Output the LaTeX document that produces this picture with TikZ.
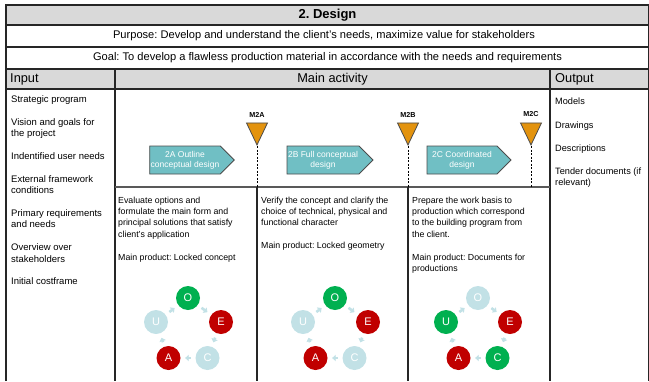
\documentclass[tikz,border=0pt]{standalone}
\usepackage{fontspec}
\setmainfont{Liberation Sans}
\usetikzlibrary{arrows.meta, shapes.geometric, shapes.symbols}
\frenchspacing

\definecolor{rowgray}{HTML}{D9D9D9}
\definecolor{phaseteal}{HTML}{70BFC4}
\definecolor{milestone}{HTML}{E3930E}
\definecolor{okgreen}{HTML}{00B050}
\definecolor{badred}{HTML}{C00000}
\definecolor{palecyan}{HTML}{C2E1E6}

\begin{document}
\begin{tikzpicture}[
			x=1pt, y=-1pt,
			frame/.style={
					line width=1.2pt,
					draw=black!85
				},
			rowtext/.style={
					font=\fontsize{11.1}{13}\selectfont,
					inner sep=0pt
				},
			headtext/.style={
					font=\fontsize{12.8}{14}\selectfont,
					inner sep=0pt
				},
			listtext/.style={
					font=\fontsize{9.5}{11.4}\selectfont,
					align=left,
					anchor=north west,
					inner sep=0pt
				},
			bodytext/.style={
					font=\fontsize{8.8}{11.4}\selectfont,
					align=left,
					anchor=north west,
					inner sep=0pt
				},
			phase/.style={
					signal,
					signal to=east,
					draw=black!70,
					fill=phaseteal,
					line width=0.8pt,
					minimum width=84pt,
					minimum height=28pt,
					inner sep=1pt,
					align=center,
					text=white,
					font=\fontsize{8.5}{9.8}\selectfont
				},
			gate/.style={
					isosceles triangle,
					isosceles triangle stretches,
					shape border rotate=-90,
					draw=black!70,
					fill=milestone,
					line width=0.8pt,
					minimum width=21pt,
					minimum height=22pt,
					inner sep=0pt,
					anchor=apex
				},
			gatelabel/.style={
					font=\bfseries\fontsize{7.2}{8}\selectfont,
					inner sep=0pt
				},
			gateline/.style={
			dashed,
			line width=0.8pt,
			dash pattern=on 2pt off 1.5pt
			},
			letter/.style={
					circle,
					minimum size=24pt,
					inner sep=0pt,
					text=white,
					font=\fontsize{11}{12}\selectfont
				},
			cyclearrow/.style={
			-{Triangle[length=3.5pt,width=6.5pt]},
			line width=2.6pt,
			draw=palecyan,
			shorten <=4.5pt,
			shorten >=4.5pt
			}
			]

			\useasboundingbox (0,0) rectangle (649,381);

			% ================= 表格框架 =================
			\fill[rowgray] (6,5) rectangle (649,25);
			\fill[rowgray] (6,69) rectangle (649,89);
			\draw[frame] (6,381) -- (6,5) -- (649,5) -- (649,381);
			\draw[frame] (6,25) -- (649,25);
			\draw[frame] (6,47) -- (649,47);
			\draw[frame] (6,69) -- (649,69);
			\draw[frame] (6,89) -- (649,89);
			\draw[frame] (115,69) -- (115,381);
			\draw[frame] (550,69) -- (550,381);
			\draw[frame, draw=black!65, line width=1.6pt] (115,187) -- (550,187);
			\draw[frame] (257,187) -- (257,381);
			\draw[frame] (408,187) -- (408,381);

			% ================= 标题行 =================
			\node[rowtext, font=\bfseries\fontsize{13}{14}\selectfont] (title) at (327.5,15) {2. Design};
			\node[rowtext] (purpose) at (324,36) {Purpose: Develop and understand the client's needs, maximize value for stakeholders};
			\node[rowtext] (goal) at (327.5,58) {Goal: To develop a flawless production material in accordance with the needs and requirements};

			\node[headtext, anchor=west] (inhead) at (10,79) {Input};
			\node[headtext] (mainhead) at (332.5,79) {Main activity};
			\node[headtext, anchor=west] (outhead) at (555,79) {Output};

			% ================= 输入 / 输出 =================
			\node[listtext] (inputs) at (11,95.5) {Strategic program\\[11.4pt]
				Vision and goals for\\the project\\[11.4pt]
				Indentified user needs\\[11.4pt]
				External framework\\conditions\\[11.4pt]
				Primary requirements\\and needs\\[11.4pt]
				Overview over\\stakeholders\\[11.4pt]
				Initial costframe};

			\node[listtext, font=\fontsize{9.2}{11.2}\selectfont] (outputs) at (555,98) {Models\\[12pt]
				Drawings\\[12pt]
				Descriptions\\[12pt]
				Tender documents (if\\relevant)};

			% ================= 阶段与里程碑 =================
			\node[phase] (p2A) at (185,160) {2A Outline\\conceptual design};
			\node[phase] (p2B) at (323,160) {2B Full conceptual\\design};
			\node[phase] (p2C) at (462,160) {2C Coordinated\\design};

			\node[gate] (g2A) at (257,146) {};
			\node[gate] (g2B) at (408,146) {};
			\node[gate] (g2C) at (531,146) {};

			\node[gatelabel] (m2A) at (257,114.5) {M2A};
			\node[gatelabel] (m2B) at (408,114.5) {M2B};
			\node[gatelabel] (m2C) at (531,114.5) {M2C};

			% 里程碑虚线，落到活动分隔线
			\coordinate (e2A) at (257,187);
			\coordinate (e2B) at (408,187);
			\coordinate (e2C) at (531,187);
			\draw[gateline] (g2A.apex) -- (e2A);
			\draw[gateline] (g2B.apex) -- (e2B);
			\draw[gateline] (g2C.apex) -- (e2C);

			% ================= 各阶段说明 =================
			\node[bodytext] (d2A) at (118,196.5) {Evaluate options and\\formulate the main form and\\principal solutions that satisfy\\client's application\\[11.4pt]
				Main product: Locked concept};
			\node[bodytext] (d2B) at (261,196.5) {Verify the concept and clarify the\\choice of technical, physical and\\functional character\\[11.4pt]
				Main product: Locked geometry};
			\node[bodytext] (d2C) at (412,196.5) {Prepare the work basis to\\production which correspond\\to the building program from\\the client.\\[11.4pt]
				Main product: Documents for\\productions};

			% ================= OUECA 圆环 =================
			\node[letter, fill=okgreen]  (O1) at (188,298) {O};
			\node[letter, fill=badred]   (E1) at (221,322) {E};
			\node[letter, fill=palecyan] (C1) at (207.5,358) {C};
			\node[letter, fill=badred]   (A1) at (168.5,358) {A};
			\node[letter, fill=palecyan] (U1) at (156,322) {U};

			\node[letter, fill=okgreen]  (O2) at (335,298) {O};
			\node[letter, fill=badred]   (E2) at (368,322) {E};
			\node[letter, fill=palecyan] (C2) at (354.5,358) {C};
			\node[letter, fill=badred]   (A2) at (315.5,358) {A};
			\node[letter, fill=palecyan] (U2) at (303,322) {U};

			\node[letter, fill=palecyan] (O3) at (478,298) {O};
			\node[letter, fill=badred]   (E3) at (510,322) {E};
			\node[letter, fill=okgreen]  (C3) at (497.5,358) {C};
			\node[letter, fill=badred]   (A3) at (458.5,358) {A};
			\node[letter, fill=okgreen]  (U3) at (446,322) {U};

			% 圆环箭头，顺时针
			\draw[cyclearrow] (O1) -- (E1);
			\draw[cyclearrow] (E1) -- (C1);
			\draw[cyclearrow] (C1) -- (A1);
			\draw[cyclearrow] (A1) -- (U1);
			\draw[cyclearrow] (U1) -- (O1);

			\draw[cyclearrow] (O2) -- (E2);
			\draw[cyclearrow] (E2) -- (C2);
			\draw[cyclearrow] (C2) -- (A2);
			\draw[cyclearrow] (A2) -- (U2);
			\draw[cyclearrow] (U2) -- (O2);

			\draw[cyclearrow] (O3) -- (E3);
			\draw[cyclearrow] (E3) -- (C3);
			\draw[cyclearrow] (C3) -- (A3);
			\draw[cyclearrow] (A3) -- (U3);
			\draw[cyclearrow] (U3) -- (O3);

		\end{tikzpicture}
\end{document}
